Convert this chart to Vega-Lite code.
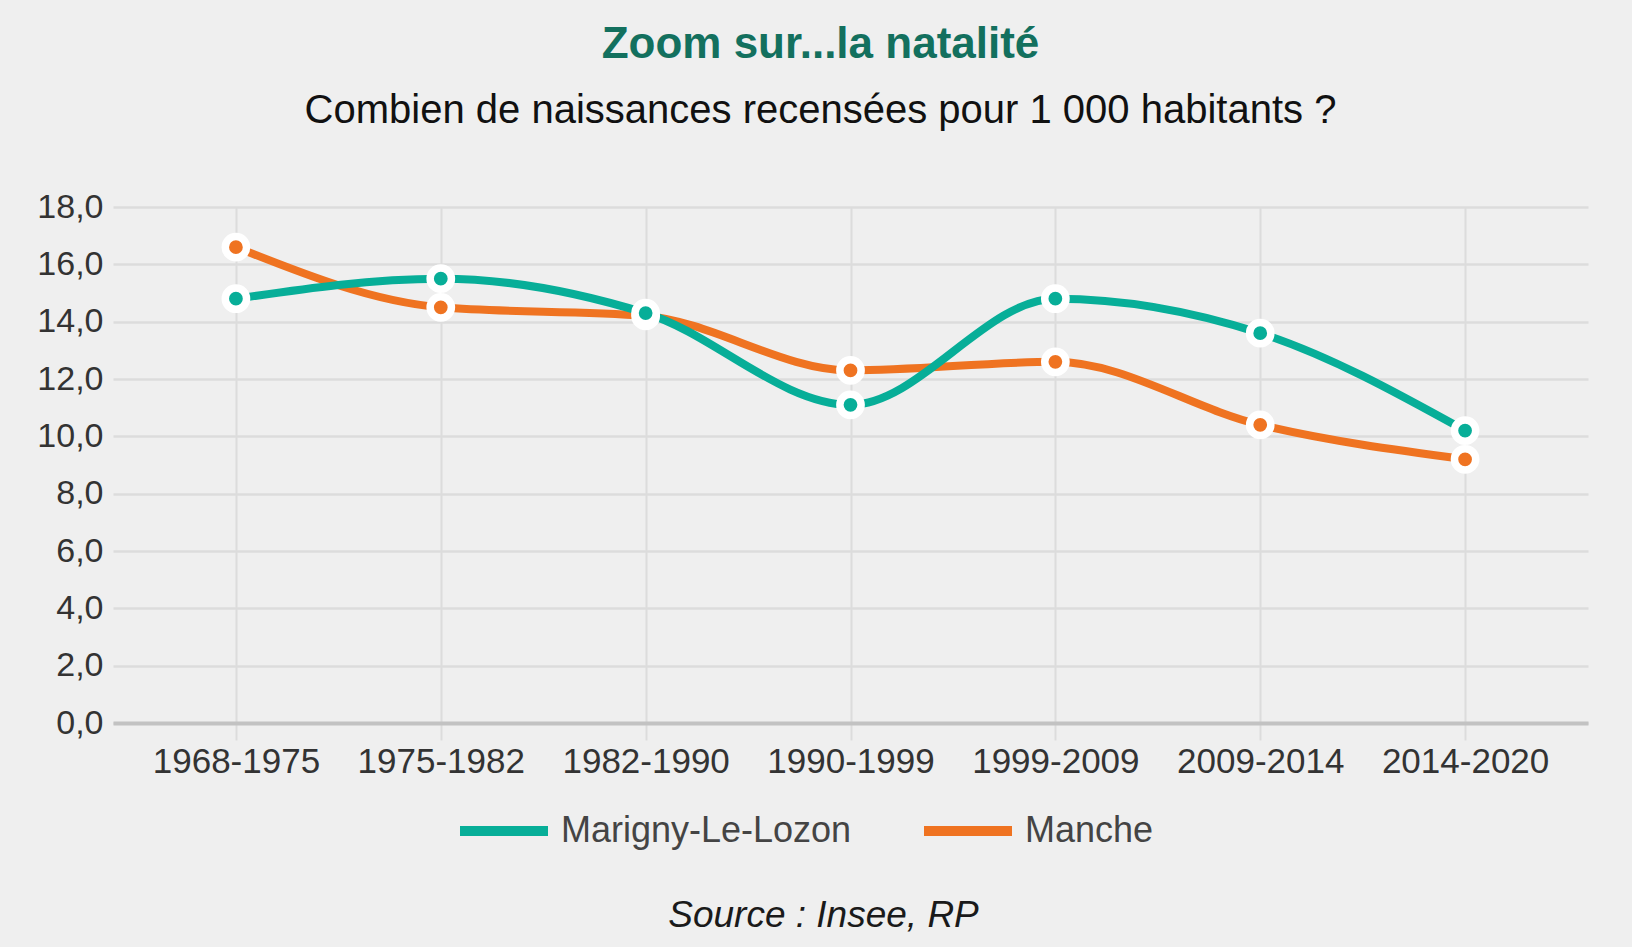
{
  "$schema": "https://vega.github.io/schema/vega-lite/v6.json",
  "width": 1475,
  "height": 516,
  "autosize": {"type": "none"},
  "padding": {"left": 113, "top": 207, "right": 44, "bottom": 224},
  "background": "#efefef",
  "config": {
    "locale": {"number": {"decimal": ",", "thousands": " ", "grouping": [3], "currency": ["", " €"]}},
    "font": "Liberation Sans",
    "view": {"stroke": null}
  },
  "title": {
    "text": "Zoom sur...la natalité",
    "subtitle": "Combien de naissances recensées pour 1 000 habitants ?",
    "anchor": "middle",
    "frame": "group",
    "dx": -30,
    "offset": 59,
    "font": "Liberation Sans",
    "fontSize": 44,
    "fontWeight": "bold",
    "color": "#13705e",
    "subtitleFont": "Liberation Sans",
    "subtitleFontSize": 40,
    "subtitleColor": "#111111",
    "subtitlePadding": 24
  },
  "data": {
    "values": [
      {"periode": "1968-1975", "serie": "Manche", "valeur": 16.6},
      {"periode": "1975-1982", "serie": "Manche", "valeur": 14.5},
      {"periode": "1982-1990", "serie": "Manche", "valeur": 14.2},
      {"periode": "1990-1999", "serie": "Manche", "valeur": 12.3},
      {"periode": "1999-2009", "serie": "Manche", "valeur": 12.6},
      {"periode": "2009-2014", "serie": "Manche", "valeur": 10.4},
      {"periode": "2014-2020", "serie": "Manche", "valeur": 9.2},
      {"periode": "1968-1975", "serie": "Marigny-Le-Lozon", "valeur": 14.8},
      {"periode": "1975-1982", "serie": "Marigny-Le-Lozon", "valeur": 15.5},
      {"periode": "1982-1990", "serie": "Marigny-Le-Lozon", "valeur": 14.3},
      {"periode": "1990-1999", "serie": "Marigny-Le-Lozon", "valeur": 11.1},
      {"periode": "1999-2009", "serie": "Marigny-Le-Lozon", "valeur": 14.8},
      {"periode": "2009-2014", "serie": "Marigny-Le-Lozon", "valeur": 13.6},
      {"periode": "2014-2020", "serie": "Marigny-Le-Lozon", "valeur": 10.2}
    ]
  },
  "encoding": {
    "x": {
      "field": "periode",
      "type": "ordinal",
      "sort": ["1968-1975", "1975-1982", "1982-1990", "1990-1999", "1999-2009", "2009-2014", "2014-2020"],
      "scale": {"type": "point", "padding": 0.6},
      "axis": {
        "title": "Source : Insee, RP",
        "titleFont": "Liberation Sans",
        "titleFontStyle": "italic",
        "titleFontWeight": "normal",
        "titleFontSize": 37,
        "titleColor": "#1a1a1a",
        "titleX": 710,
        "titleY": 203,
        "titleBaseline": "alphabetic",
        "titleAlign": "center",
        "labelAngle": 0,
        "labelFontSize": 35,
        "labelColor": "#333333",
        "labelBaseline": "alphabetic",
        "labelPadding": 32,
        "ticks": true,
        "tickSize": 17,
        "tickColor": "#dcdcdc",
        "tickWidth": 2,
        "grid": true,
        "gridColor": "#dcdcdc",
        "gridWidth": 2,
        "domain": true,
        "domainColor": "#c2c2c2",
        "domainWidth": 4
      }
    },
    "y": {
      "field": "valeur",
      "type": "quantitative",
      "scale": {"domain": [0, 18], "nice": false},
      "axis": {
        "title": null,
        "values": [0, 2, 4, 6, 8, 10, 12, 14, 16, 18],
        "format": ".1f",
        "labelFontSize": 34,
        "labelColor": "#333333",
        "labelPadding": 10,
        "ticks": false,
        "tickSize": 0,
        "domain": false,
        "grid": true,
        "gridColor": "#dcdcdc",
        "gridWidth": 2.5
      }
    }
  },
  "layer": [
    {
      "mark": {"type": "line", "interpolate": "monotone", "strokeWidth": 8},
      "encoding": {
        "color": {
          "field": "serie",
          "type": "nominal",
          "scale": {"domain": ["Marigny-Le-Lozon", "Manche"], "range": ["#07ae98", "#ef7321"]},
          "legend": {
            "orient": "none",
            "legendX": 342,
            "legendY": 575,
            "direction": "horizontal",
            "title": null,
            "symbolType": "stroke",
            "symbolSize": 7744,
            "symbolStrokeWidth": 10,
            "labelFont": "Liberation Sans",
            "labelFontSize": 36,
            "labelColor": "#444444",
            "labelOffset": 8,
            "labelLimit": 0,
            "columnPadding": 52
          }
        }
      }
    },
    {
      "mark": {"type": "point", "filled": true, "size": 452, "stroke": "white", "strokeWidth": 7.5, "opacity": 1},
      "encoding": {
        "color": {"field": "serie", "type": "nominal", "legend": null}
      }
    }
  ]
}
